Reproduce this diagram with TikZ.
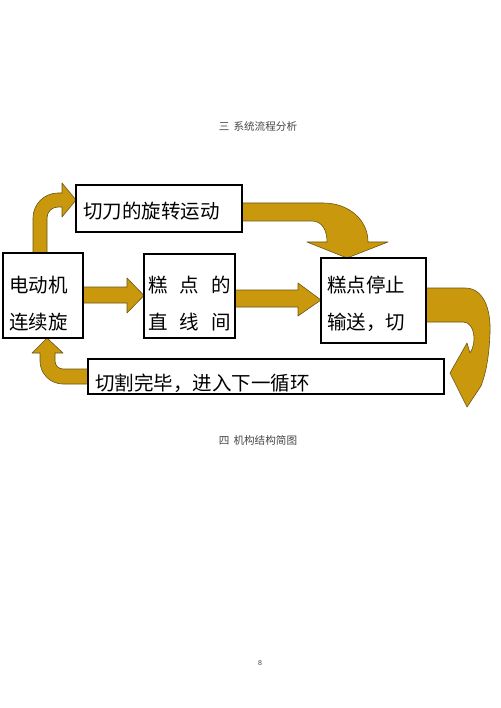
\documentclass[tikz,border=0pt]{standalone}
\usepackage{fontspec}
\newfontfamily\cjk{Noto Sans CJK SC}
\setsansfont{Liberation Sans}
\pgfdeclarelayer{paper}
\pgfdeclarelayer{bg}
\pgfsetlayers{paper,bg,main}
\definecolor{gold}{RGB}{201,152,12}
\definecolor{goldline}{RGB}{105,85,20}
\definecolor{headgray}{RGB}{70,70,70}
\tikzset{
  box/.style={draw=black, line width=1.5pt, fill=white, inner sep=0pt, outer sep=0pt},
  boxtext/.style={inner sep=0pt, anchor=west, font=\cjk\fontsize{19.5}{20}\selectfont},
  heading/.style={inner sep=0pt, text=headgray, font=\cjk\fontsize{10.6}{12}\selectfont},
  fat/.style={fill=gold, draw=goldline, line width=0.6pt, line join=round}
}
\begin{document}
\begin{tikzpicture}[x=1pt,y=-1pt]
\useasboundingbox (0,0) rectangle (500,708);
\begin{pgfonlayer}{paper}
\fill[white] (0,0) rectangle (500,708);
\end{pgfonlayer}

% headings
\node[heading] (h1) at (258,126) {三\hspace{4pt}系统流程分析};
\node[heading] (h2) at (258,440) {四\hspace{4pt}机构结构简图};
\node[inner sep=0pt, text=headgray, font=\sffamily\fontsize{7}{8}\selectfont] (pg) at (260,663) {8};

% boxes
\node[box, minimum width=166pt, minimum height=47pt] (cut) at (159,208.5) {};
\node[box, minimum width=80pt, minimum height=85pt] (motor) at (43,295.5) {};
\node[box, minimum width=91pt, minimum height=84pt] (line) at (189.5,296) {};
\node[box, minimum width=105pt, minimum height=85pt] (stop) at (373.5,300.5) {};
\node[box, minimum width=356pt, minimum height=35pt] (done) at (266,376.5) {};

% texts
\node[boxtext] (t1) at (83,211) {切刀的旋转运动};
\node[boxtext] (t2a) at (9,285) {电动机};
\node[boxtext] (t2b) at (9,322) {连续旋};
\node[boxtext] (t3a) at (148,285) {糕\hspace{12pt}点\hspace{12pt}的};
\node[boxtext] (t3b) at (148,322) {直\hspace{12pt}线\hspace{12pt}间};
\node[boxtext] (t4a) at (327,285) {糕点停止};
\node[boxtext] (t4b) at (327,322) {输送，切};
\node[boxtext] (t5) at (95,383) {切割完毕，进入下一循环};

\begin{pgfonlayer}{bg}
% motor -> cut
\draw[fat] (motor.north west -| 33,0) -- (33,218) arc (180:270:25) -- (62,193) -- (62,183)
  -- (cut.west |- 0,200) -- (62,217) -- (62,207) -- (58,207) arc (270:180:11) -- (47,218)
  -- (motor.north west -| 47,0) -- cycle;
% motor -> line
\draw[fat] (motor.east |- 0,287) -- (127,287) -- (127,278) -- (line.west |- 0,295.5)
  -- (127,313) -- (127,303) -- (motor.east |- 0,303) -- cycle;
% line -> stop
\draw[fat] (line.east |- 0,290) -- (298,290) -- (298,283) -- (stop.west |- 0,300)
  -- (298,316) -- (298,307) -- (line.east |- 0,307) -- cycle;
% cut -> stop
\draw[fat] (cut.east |- 0,203) -- (323,203) .. controls (349,203) and (368,220) .. (368,242)
  -- (388,242) -- (stop.north -| 347,0) -- (307,242) -- (327,242)
  .. controls (327,230) and (322,221) .. (312,221) -- (cut.east |- 0,221) -- cycle;
% stop -> done (curved, head down-left)
\coordinate (tip5) at (467,407);
\draw[fat] (stop.east |- 0,288) -- (465,288) .. controls (483,288) and (491,308) .. (490,333)
  .. controls (489,357) and (486,373) .. (481,386) -- (tip5) -- (450,373) -- (467,343)
  -- (470,353) .. controls (477,343) and (475,322) .. (463,322) -- (stop.east |- 0,322) -- cycle;
% done -> motor
\draw[fat] (done.west |- 0,369) -- (63,369) arc (90:180:8) -- (55,353) -- (63,353)
  -- (motor.south -| 47,0) -- (32,353) -- (40,353) -- (40,361) arc (180:90:23)
  -- (63,384) -- (done.west |- 0,384) -- cycle;
\end{pgfonlayer}
\end{tikzpicture}
\end{document}
